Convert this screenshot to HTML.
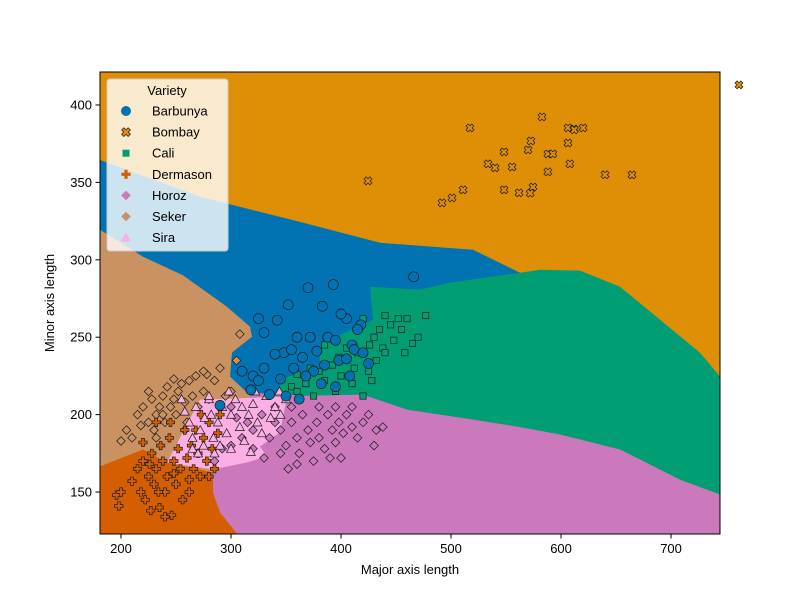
<!DOCTYPE html>
<html><head><meta charset="utf-8"><style>
html,body{margin:0;padding:0;background:#fff}
svg text{font-family:"Liberation Sans","DejaVu Sans",sans-serif}
</style></head><body>
<svg id="chart" width="800" height="600" xmlns="http://www.w3.org/2000/svg">
<defs><clipPath id="clip"><rect x="100" y="72" width="620" height="462"/></clipPath></defs>
<g id="regions" clip-path="url(#clip)"></g>
<g id="points"></g>
<rect x="100" y="72" width="620" height="462" fill="none" stroke="#000" stroke-width="1"/>
<g id="axes"></g>
<text x="410" y="574" font-size="13" text-anchor="middle">Major axis length</text>
<text x="54" y="303" font-size="13" text-anchor="middle" transform="rotate(-90 54 303)">Minor axis length</text>
<g id="legend"></g>
</svg>
<script>
const xTicks=[200,300,400,500,600,700];
const yTicks=[150,200,250,300,350,400];
const classes=["Barbunya","Bombay","Cali","Dermason","Horoz","Seker","Sira"];
const colors=["#0173b2","#de8f05","#029e73","#d55e00","#cc78bc","#ca9161","#fbafe4"];
const shapes=["circle","x","square","plus","diamond","diamond-thin","triangle"];
const barbunya=[[325,262],[330,253],[342,261],[352,271],[370,282],[383,270],[393,284],[405,262],[418,258],[400,265],[360,250],[372,250],[378,241],[388,250],[395,248],[410,245],[415,255],[348,240],[355,242],[340,239],[365,237],[375,228],[385,232],[398,235],[405,236],[412,242],[330,230],[320,225],[310,228],[325,222],[345,223],[357,230],[368,225],[382,220],[395,218],[408,225],[350,212],[362,210],[335,213],[290,206],[318,216],[420,240],[425,233],[466,289]];
const bombay=[[424.5,351],[491.8,336.8],[500.9,340],[510.9,345.2],[517.2,385.2],[533.6,362],[540,359.4],[548.2,369.7],[548.2,345.2],[555.5,360],[561.8,343.3],[570,371],[572.6,376.8],[574.5,347],[582.7,392.3],[588,368.4],[588,356.8],[592.6,368.4],[606.3,385.2],[606.3,375.5],[608,362],[611.8,384.5],[620,385.2],[664.5,354.9],[761.7,413],[572,343],[612,384],[640,355]];
const cali=[[400,265],[420,262],[440,264],[452,262],[460,262],[477,264],[435,255],[445,258],[455,255],[470,250],[465,246],[430,250],[438,243],[426,245],[415,240],[405,243],[398,237],[392,232],[380,228],[372,230],[360,226],[355,218],[368,220],[385,222],[400,225],[412,230],[425,228],[432,235],[440,240],[395,215],[375,212],[360,215],[385,245],[410,220],[420,212],[428,222],[448,248],[458,240]];
const dermason=[[196,148],[198,141],[200,150],[210,157],[215,165],[218,150],[220,170],[222,145],[225,160],[228,175],[230,155],[232,165],[235,140],[236,180],[238,170],[240,150],[242,160],[244,185],[246,135],[248,170],[250,155],[252,178],[254,165],[256,145],[258,190],[260,172],[262,158],[264,180],[266,165],[268,190],[270,175],[272,160],[275,185],[278,170],[280,195],[283,178],[285,165],[288,188],[290,200],[227,138],[240,134],[232,195],[220,182],[245,195],[262,150],[273,200],[280,160],[234,150],[248,162],[226,168]];
const horoz=[[300,205],[305,198],[315,195],[320,190],[328,200],[335,185],[340,195],[345,190],[350,180],[355,195],[360,185],[362,175],[365,200],[370,190],[372,182],[378,195],[380,185],[385,178],[388,200],[392,190],[395,182],[398,195],[402,188],[405,200],[410,192],[415,185],[420,195],[425,200],[432,190],[438,192],[400,172],[390,172],[375,170],[360,168],[352,165],[345,175],[330,172],[320,178],[310,185],[300,180],[292,178],[285,170],[410,205],[395,205],[380,205],[430,180],[355,205],[340,205]];
const seker=[[200,183],[210,185],[215,200],[220,205],[225,195],[228,210],[230,190],[232,200],[235,205],[238,212],[240,195],[242,218],[245,205],[248,210],[250,200],[252,215],[255,220],[258,208],[260,195],[262,222],[265,212],[268,225],[270,205],[275,215],[278,226],[280,210],[285,222],[290,230],[295,212],[300,215],[305,235],[308,252],[275,228],[225,215],[218,193],[205,190],[248,223],[238,200],[232,185],[258,190]];
const sira=[[258,202],[262,195],[268,205],[272,190],[276,198],[280,210],[284,185],[288,195],[292,205],[296,188],[300,200],[304,210],[308,192],[312,183],[316,200],[320,207],[324,195],[328,188],[332,212],[336,198],[340,205],[344,215],[265,185],[275,180],[290,180],[300,178],[318,176],[282,200],[298,215],[310,205],[322,215],[350,210],[345,200],[255,210],[280,212],[265,178],[270,175],[285,175]];
// decision regions (data units)
const regBlue=[[180.9,364.5],[271.8,340.7],[362.7,324.5],[435.4,311],[520,306.5],[562.7,291.6],[562.7,200],[180.9,200]];
const regGreen=[[426.3,282.6],[471.8,280.7],[499,285.2],[535.4,289],[562.7,291.6],[580.9,293.6],[617.2,293],[653.6,282.6],[690,261.3],[726.3,240],[744.5,224.6],[744.5,148.4],[708,158],[653.6,177.5],[599,187.2],[560,192.3],[520,196.8],[460,203.3],[420,213],[362.7,212],[344.5,214.2],[344.5,222.6],[362.7,227.2],[380.9,231],[380.9,243.9],[403.6,253],[429.1,261.3]];
const regTan=[[180.9,319.4],[220,302],[256.3,290],[296.3,269.7],[317.3,256.8],[319.1,250.4],[300.9,240.1],[299.1,224.6],[314.5,214.2],[323.6,209.7],[326.3,160],[180.9,160]];
const regHoroz=[[314.5,214.2],[362.7,212.5],[420,213],[460,203.3],[520,196.8],[560,192.3],[599,187.2],[653.6,177.5],[708,158],[744.5,148.4],[744.5,123],[305.4,123],[290,136.9],[283.6,149.7],[283.6,166.5],[300,175],[330,190]];
const regSira=[[241.8,169.1],[271.8,209.7],[350.9,211.6],[344.5,188.5],[326.3,179.4],[332.7,173],[314.5,169.1],[283.6,164.6]];
const regDerm=[[180.9,166.5],[220,177.5],[241.8,169.1],[283.6,162.6],[283.6,149.7],[290,136.9],[305.4,123],[180.9,123]];

const X0=100,X1=720,Y0=534,Y1=72,xmin=180.9,xmax=744.5,ymin=122.9,ymax=421.3;
const sx=v=>X0+(v-xmin)/(xmax-xmin)*(X1-X0);
const sy=v=>Y0-(v-ymin)/(ymax-ymin)*(Y0-Y1);
const NS="http://www.w3.org/2000/svg";
function mk(tag,attrs,parent){const e=document.createElementNS(NS,tag);for(const k in attrs)e.setAttribute(k,attrs[k]);parent.appendChild(e);return e;}

const R=document.getElementById('regions');
const bg=mk('rect',{x:100,y:72,width:620,height:462,fill:colors[1]},R);


const regs=[[regBlue,0,'region-barbunya'],[regTan,5,'region-seker'],[regHoroz,4,'region-horoz'],[regGreen,2,'region-cali'],[regSira,6,'region-sira'],[regDerm,3,'region-dermason']];
regs.forEach(([pts,ci,name])=>{
  const p=mk('polygon',{points:pts.map(q=>sx(q[0])+','+sy(q[1])).join(' '),fill:colors[ci]},R);
  
  
});

function marker(shape,cx,cy,col,parent,s){
  s=s||1;let e;
  const st={fill:col,stroke:'#1a1a1a','stroke-width':0.7};
  if(shape==='circle'){e=mk('circle',Object.assign({cx,cy,r:5*s},st),parent);}
  else if(shape==='square'){e=mk('rect',Object.assign({x:cx-3.5*s,y:cy-3.5*s,width:7*s,height:7*s},st),parent);}
  else if(shape==='diamond'||shape==='diamond-thin'){const d=4.8*s;e=mk('polygon',Object.assign({points:`${cx},${cy-d} ${cx+d},${cy} ${cx},${cy+d} ${cx-d},${cy}`},st),parent);}
  else if(shape==='triangle'){const d=5*s;e=mk('polygon',Object.assign({points:`${cx},${cy-d} ${cx+d},${cy+d*0.8} ${cx-d},${cy+d*0.8}`},st),parent);}
  else if(shape==='plus'){const a=1.6*s,b=4.6*s;e=mk('polygon',Object.assign({points:`${cx-a},${cy-b} ${cx+a},${cy-b} ${cx+a},${cy-a} ${cx+b},${cy-a} ${cx+b},${cy+a} ${cx+a},${cy+a} ${cx+a},${cy+b} ${cx-a},${cy+b} ${cx-a},${cy+a} ${cx-b},${cy+a} ${cx-b},${cy-a} ${cx-a},${cy-a}`},st),parent);}
  else if(shape==='x'){const g=mk('g',{transform:`rotate(45 ${cx} ${cy})`},parent);marker('plus',cx,cy,col,g,s);e=g;}
  return e;
}
const P=document.getElementById('points');
const series=[[seker,5,'seker-point'],[dermason,3,'dermason-point'],[horoz,4,'horoz-point'],[sira,6,'sira-point'],[cali,2,'cali-point'],[barbunya,0,'barbunya-point'],[bombay,1,'bombay-point']];
series.forEach(([arr,ci,name])=>{
  arr.forEach(q=>{
    const m=marker(shapes[ci],sx(q[0]),sy(q[1]),colors[ci],P,ci===0?1:0.9);
    
    
  });
});

const A=document.getElementById('axes');
xTicks.forEach(t=>{
  const x=sx(t);
  const l=mk('line',{x1:x,x2:x,y1:534,y2:538.5,stroke:'#000'},A);
  
  
  const tx=mk('text',{x:x,y:553,'font-size':13,'text-anchor':'middle'},A);tx.textContent=t;
  
  
});
yTicks.forEach(t=>{
  const y=sy(t);
  const l=mk('line',{x1:95.5,x2:100,y1:y,y2:y,stroke:'#000'},A);
  
  
  const tx=mk('text',{x:92,y:y+4.5,'font-size':13,'text-anchor':'end'},A);tx.textContent=t;
  
  
});

const L=document.getElementById('legend');
const lb=mk('rect',{x:107,y:79,width:121,height:172,rx:3,fill:'#fff','fill-opacity':0.8,stroke:'#ccc'},L);


const lt=mk('text',{x:167,y:95,'font-size':13,'text-anchor':'middle'},L);lt.textContent='Variety';


classes.forEach((c,i)=>{
  const y=111+i*21.1;
  const m=marker(shapes[i],126,y,colors[i],L,1);
  m.setAttribute('stroke','none');
  
  
  const t=mk('text',{x:152,y:y+4.5,'font-size':13},L);t.textContent=c;
  
  
});
</script>
</body></html>
